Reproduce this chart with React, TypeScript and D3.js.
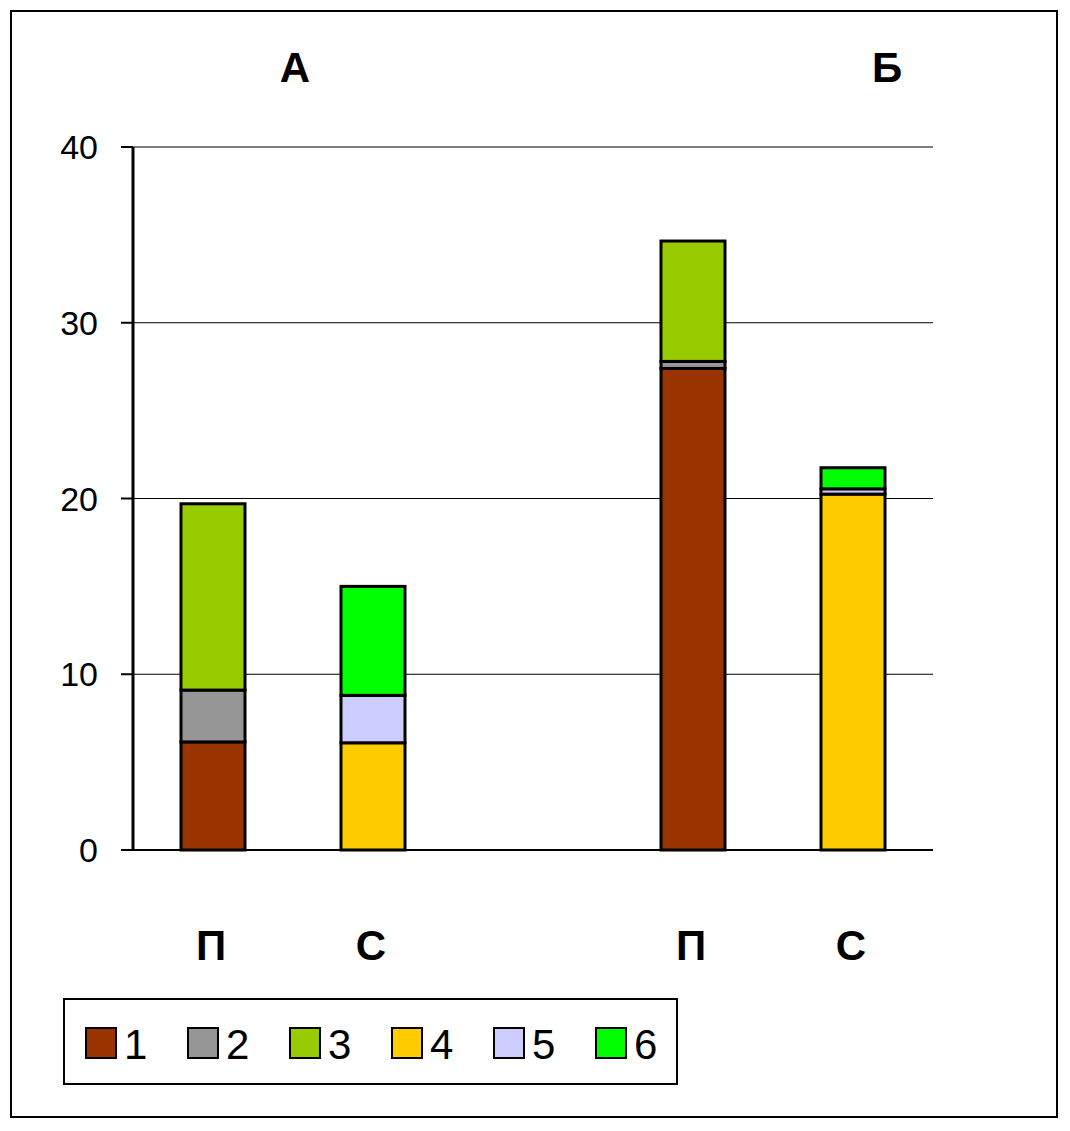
import * as d3 from 'd3';

const categories = ['AП', 'AС', 'gap', 'БП', 'БС'];
const catLabels = ['П', 'С', '', 'П', 'С'];
const seriesNames = ['1', '2', '3', '4', '5', '6'];
const colors = ['#993300', '#969696', '#99cc00', '#ffcc00', '#ccccff', '#00ff00'];
// values per series, per category
const s1 = [6.15, 0, 0, 27.4, 0];
const s2 = [2.95, 0, 0, 0.4, 0];
const s3 = [10.6, 0, 0, 6.85, 0];
const s4 = [0, 6.1, 0, 0, 20.25];
const s5 = [0, 2.7, 0, 0, 0.3];
const s6 = [0, 6.2, 0, 0, 1.2];
const series = [s1, s2, s3, s4, s5, s6];
const yTicks = [0, 10, 20, 30, 40];

const W = 1070, H = 1131;
const F = 'Arial, "Liberation Sans", sans-serif';

export default function App() {
  const x = d3.scaleBand().domain(categories).range([133, 933]);
  const y = d3.scaleLinear().domain([0, 40]).range([850, 147]);
  const bw = 64;
  const rows = categories.map((c, i) => {
    const o: any = { c };
    series.forEach((s, k) => (o[k] = s[i]));
    return o;
  });
  const stacked = d3.stack<any>().keys(series.map((_, k) => String(k)))(rows);

  return (
    <svg width={W} height={H} style={{ position: 'absolute', left: 0, top: 0 }}>
      <rect x={11} y={11} width={1046} height={1106} fill="white" stroke="black" strokeWidth={2} />
      {yTicks.map(t => (
        <g key={t}>
          {t > 0 && <line x1={133} x2={933} y1={y(t)} y2={y(t)} stroke="black" strokeWidth={1} />}
          <line x1={121} x2={133} y1={y(t)} y2={y(t)} stroke="black" strokeWidth={2} />
          <text x={98} y={y(t)} textAnchor="end" dominantBaseline="central" fontFamily={F} fontSize={34}>{t}</text>
        </g>
      ))}
      <line x1={133} x2={133} y1={y(40)} y2={y(0)} stroke="black" strokeWidth={3} />
      <line x1={133} x2={933} y1={y(0)} y2={y(0)} stroke="black" strokeWidth={2} />
      {stacked.map((layer, k) =>
        layer.map((d, i) =>
          d[1] - d[0] > 0 ? (
            <rect key={k + '-' + i} x={x(categories[i])! + x.bandwidth() / 2 - bw / 2} y={y(d[1])}
              width={bw} height={y(d[0]) - y(d[1])} fill={colors[k]} stroke="black" strokeWidth={3} />
          ) : null
        )
      )}
      {categories.map((c, i) => (
        <text key={c} x={x(c)! + x.bandwidth() / 2 - 2} y={945} textAnchor="middle" dominantBaseline="central"
          fontFamily={F} fontWeight="bold" fontSize={42}>{catLabels[i]}</text>
      ))}
      <text x={295} y={67} textAnchor="middle" dominantBaseline="central" fontFamily={F} fontWeight="bold" fontSize={42}>А</text>
      <text x={887} y={67} textAnchor="middle" dominantBaseline="central" fontFamily={F} fontWeight="bold" fontSize={42}>Б</text>
      <rect x={64} y={999} width={613} height={85} fill="white" stroke="black" strokeWidth={2} />
      {seriesNames.map((n, k) => (
        <g key={n} transform={`translate(${86 + k * 102},1028)`}>
          <rect x={0} y={0} width={30} height={30} fill={colors[k]} stroke="black" strokeWidth={2} />
          <text x={38} y={16} dominantBaseline="central" fontFamily={F} fontSize={42}>{n}</text>
        </g>
      ))}
    </svg>
  );
}
